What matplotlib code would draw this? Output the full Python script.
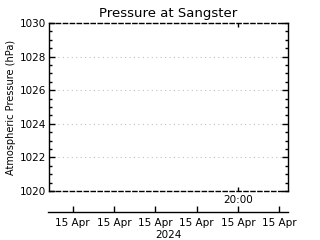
import numpy as np
import matplotlib as mpl
mpl.use('Agg')
import matplotlib.pyplot as plt
from matplotlib.ticker import MultipleLocator, FixedLocator

mpl.rc('font', family='DejaVu Sans', size=7)

# data (no observations in the window)
times = []          # hours since midnight, 15 Apr 2024
pressure = []       # hPa

x_start = 10.85
x_end = 22.42
y_min = 1020
y_max = 1030

# upper time tick (inside the plot)
upper_ticks = [20.0]
upper_labels = ['20:00']

# lower date axis
lower_ticks = [12, 14, 16, 18, 20, 22]
lower_labels = ['15 Apr'] * len(lower_ticks)
year_label = '2024'

fig = plt.figure(figsize=(3.2, 2.4), dpi=100)
ax = fig.add_axes([49/320, 1 - 191/240, 239/320, 168/240])
ax.plot(times, pressure, color='black', lw=1)

ax.set_xlim(x_start, x_end)
ax.set_ylim(y_min, y_max)
ax.set_title('Pressure at Sangster', fontsize=9.5, pad=4)
ax.set_ylabel('Atmospheric Pressure (hPa)', fontsize=7, labelpad=3)

for s in ['top', 'bottom']:
    ax.spines[s].set_linestyle((0, (3, 2)))
    ax.spines[s].set_linewidth(1.0)
for s in ['left', 'right']:
    ax.spines[s].set_linewidth(1.0)

ax.yaxis.set_major_locator(MultipleLocator(2))
ax.yaxis.set_minor_locator(MultipleLocator(0.5))
ax.tick_params(axis='y', which='major', direction='in', left=True, right=True,
               length=4, width=1, labelsize=7.5, pad=2)
ax.tick_params(axis='y', which='minor', direction='in', left=True, right=True,
               length=2.5, width=1)
ax.yaxis.set_major_formatter(mpl.ticker.FuncFormatter(lambda v, p: '%d' % v))

ax.xaxis.set_major_locator(FixedLocator(upper_ticks))
ax.set_xticklabels(upper_labels)
ax.tick_params(axis='x', which='major', direction='in', top=True, bottom=True,
               length=3, width=1, labelsize=7.5, pad=3)

ax.grid(axis='y', which='major', linestyle=(0, (1, 3)), color='#c0c0c0', lw=0.8)

# separate date axis below the plot
ax2 = fig.add_axes([48/320, 1 - 212/240, 240/320, 0.0001])
ax2.set_xlim(x_start - 1/20.65, x_end)
ax2.set_yticks([])
for s in ['top', 'left', 'right']:
    ax2.spines[s].set_visible(False)
ax2.spines['bottom'].set_linewidth(1.0)
ax2.patch.set_visible(False)
ax2.set_xticks(lower_ticks)
ax2.set_xticklabels(lower_labels)
ax2.tick_params(axis='x', direction='in', length=4, width=1, labelsize=7.5, pad=4)
ax2.set_xlabel(year_label, fontsize=7.5, labelpad=2)

plt.savefig('out.png', dpi=100)
